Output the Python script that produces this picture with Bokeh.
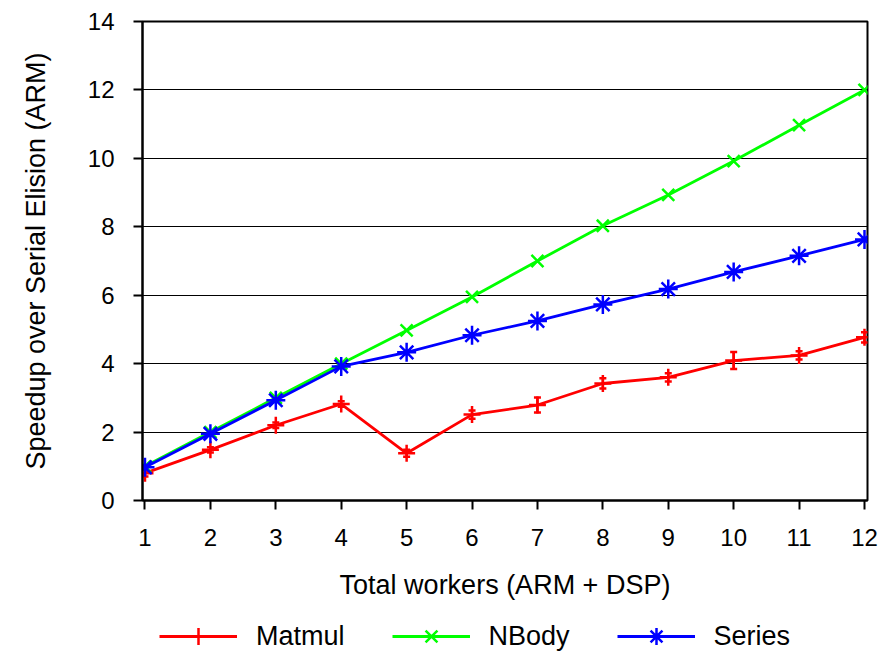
from bokeh.plotting import figure
from bokeh.layouts import column
from bokeh.models import ColumnDataSource, Whisker, Legend, LegendItem, FixedTicker, Range1d
from bokeh.embed import file_html
from bokeh.resources import INLINE

workers = [1, 2, 3, 4, 5, 6, 7, 8, 9, 10, 11, 12]
matmul = [0.80, 1.48, 2.20, 2.82, 1.38, 2.51, 2.79, 3.42, 3.60, 4.09, 4.24, 4.77]
matmul_err = [0.10, 0.08, 0.08, 0.08, 0.10, 0.12, 0.22, 0.15, 0.12, 0.25, 0.12, 0.15]
nbody = [1.00, 2.00, 3.00, 4.00, 4.97, 5.95, 7.00, 8.03, 8.93, 9.92, 10.97, 12.00]
series = [0.97, 1.95, 2.93, 3.92, 4.33, 4.83, 5.25, 5.73, 6.18, 6.68, 7.15, 7.63]
labels = ["Matmul", "NBody", "Series"]

FONT = "Liberation Sans"
RED, GREEN, BLUE = "#ff0000", "#00ff00", "#0000ff"

p = figure(width=880, height=603, output_backend="svg", toolbar_location=None,
           x_range=Range1d(0.962, 12.046), y_range=Range1d(0, 14),
           min_border_left=142, min_border_right=13, min_border_top=21, min_border_bottom=103)
p.xaxis.axis_label = "Total workers (ARM + DSP)"
p.yaxis.axis_label = "Speedup over Serial Elision (ARM)"
for ax in (p.xaxis[0], p.yaxis[0]):
    ax.axis_label_text_font = FONT
    ax.axis_label_text_font_size = "27px"
    ax.axis_label_text_font_style = "normal"
    ax.major_label_text_font = FONT
    ax.major_label_text_font_size = "24px"
    ax.major_tick_in = 0
    ax.major_tick_out = 9
    ax.minor_tick_line_color = None
    ax.axis_line_width = 2
    ax.major_tick_line_width = 2
    ax.axis_line_color = "black"
    ax.major_tick_line_color = "black"
    ax.major_label_text_color = "black"
    ax.axis_label_text_color = "black"
p.xaxis.ticker = FixedTicker(ticks=workers)
p.yaxis.ticker = FixedTicker(ticks=[0, 2, 4, 6, 8, 10, 12, 14])
p.xaxis.major_label_standoff = 19
p.xaxis.axis_label_standoff = 21
p.yaxis.major_label_standoff = 19
p.yaxis.axis_label_standoff = 34
p.xgrid.grid_line_color = None
p.ygrid.grid_line_color = "black"
p.ygrid.grid_line_width = 1
p.outline_line_color = "black"
p.outline_line_width = 2

src = ColumnDataSource(dict(x=workers, m=matmul,
                            lo=[v - e for v, e in zip(matmul, matmul_err)],
                            hi=[v + e for v, e in zip(matmul, matmul_err)],
                            n=nbody, s=series))

w = Whisker(source=src, base="x", lower="lo", upper="hi", line_color=RED, line_width=2.5)
for head in (w.upper_head, w.lower_head):
    head.size = 7
    head.line_color = RED
    head.line_width = 2.5
p.add_layout(w)

styles = [(RED, "cross", 17), (GREEN, "x", 17), (BLUE, "asterisk", 19)]
for col, (color, marker, size) in zip(["m", "n", "s"], styles):
    p.line("x", col, source=src, line_color=color, line_width=2.8)
    p.scatter("x", col, source=src, marker=marker, size=size, line_color=color, line_width=2.5)

# legend strip below the chart
p2 = figure(width=880, height=50, output_backend="svg", toolbar_location=None,
            x_range=Range1d(0, 1), y_range=Range1d(0, 1),
            min_border_left=142, min_border_right=13, min_border_top=0, min_border_bottom=0)
p2.axis.visible = False
p2.grid.grid_line_color = None
p2.outline_line_color = None
items = []
for label, (color, marker, size) in zip(labels, styles):
    r1 = p2.line([5, 6], [5, 5], line_color=color, line_width=2.8)
    r2 = p2.scatter([5], [5], marker=marker, size=size, line_color=color, line_width=2.5)
    items.append(LegendItem(label=label, renderers=[r1, r2]))
legend = Legend(items=items, orientation="horizontal", location=(17, -4),
                label_text_font=FONT, label_text_font_size="27px", label_text_color="black",
                glyph_width=78, glyph_height=42, spacing=47, label_standoff=19,
                border_line_color=None, background_fill_alpha=0, padding=0, margin=0)
p2.add_layout(legend)

layout = column(p, p2, spacing=0)
open("out.html", "w").write(file_html(layout, INLINE))
